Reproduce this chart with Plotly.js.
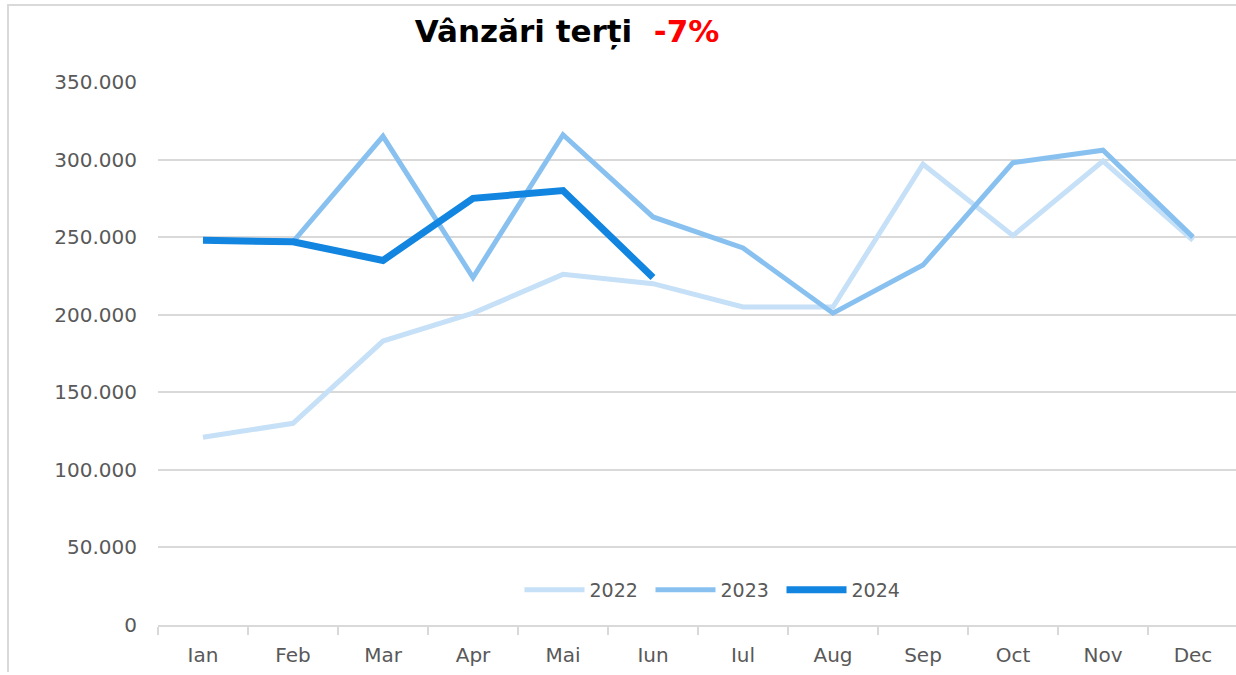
<!DOCTYPE html>
<html>
<head>
<meta charset="utf-8">
<script src="https://cdn.plot.ly/plotly-3.0.1.min.js"></script>
<style>
html,body{margin:0;padding:0;overflow:hidden;background:#fff;}
#chart{width:1240px;height:675px;}
</style>
</head>
<body>
<div id="chart"></div>
<script>
const months = ["Ian","Feb","Mar","Apr","Mai","Iun","Iul","Aug","Sep","Oct","Nov","Dec"];
const sales2022 = [121000,130000,183000,201000,226000,220000,205000,205000,297000,251000,299000,248000];
const sales2023 = [248000,247000,315000,224000,316000,263000,243000,201000,232000,298000,306000,250000];
const sales2024 = [248000,247000,235000,275000,280000,224000];
const yTickVals = [0,50000,100000,150000,200000,250000,300000,350000];
const yTickText = ["0","50.000","100.000","150.000","200.000","250.000","300.000","350.000"];

const L = 158, R = 1238, T = 82, B = 625;
const px = x => (x - L) / (R - L);
const py = y => (B - y) / (B - T);

const font = {family: "DejaVu Sans, Verdana, sans-serif", size: 20, color: "#595959"};

const traces = [
  {x: months, y: sales2022, name: "2022", type: "scatter", mode: "lines",
   line: {color: "#C5E0F7", width: 5}},
  {x: months.slice(0, sales2023.length), y: sales2023, name: "2023", type: "scatter", mode: "lines",
   line: {color: "#88C1F0", width: 5}},
  {x: months.slice(0, sales2024.length), y: sales2024, name: "2024", type: "scatter", mode: "lines",
   line: {color: "#1185E0", width: 7}}
];

const layout = {
  width: 1240, height: 675,
  margin: {l: L, r: 1240 - R, t: T, b: 675 - B},
  paper_bgcolor: "#fff", plot_bgcolor: "#fff",
  font: font,
  showlegend: true,
  title: {
    text: "Vânzări terți\u00A0\u00A0<span style='color:#FF0000'>-7%</span>",
    font: {family: "DejaVu Sans, Verdana, sans-serif", size: 31, color: "#000", weight: "bold"},
    xref: "paper", x: px(567), xanchor: "center",
    yref: "container", y: 1 - 31/675, yanchor: "middle"
  },
  xaxis: {
    type: "category", categoryorder: "array", categoryarray: months,
    range: [-0.5, 11.5],
    showgrid: false, zeroline: false,
    showline: true, linecolor: "#D9D9D9", linewidth: 2,
    ticks: "outside", tickson: "boundaries", ticklen: 8, tickcolor: "#D9D9D9", tickwidth: 2,
    tickfont: font, ticklabelstandoff: 11,
    fixedrange: true
  },
  yaxis: {
    range: [0, 350000],
    tickvals: yTickVals, ticktext: yTickText,
    showgrid: true, gridcolor: "#D9D9D9", gridwidth: 2,
    zeroline: false, showline: false, ticks: "",
    tickfont: font, ticklabelstandoff: 20,
    fixedrange: true
  },
  legend: {
    orientation: "h", x: px(716), xanchor: "center", y: py(590), yanchor: "middle",
    font: {family: "DejaVu Sans, Verdana, sans-serif", size: 19, color: "#595959"},
    bgcolor: "rgba(0,0,0,0)", traceorder: "normal",
    itemwidth: 60, entrywidth: 56, entrywidthmode: "pixels"
  },
  shapes: [
    {type: "line", xref: "paper", yref: "paper", x0: px(8), x1: px(8), y0: py(5), y1: py(672),
     line: {color: "#D9D9D9", width: 2}},
    {type: "line", xref: "paper", yref: "paper", x0: px(7), x1: px(1240), y0: py(5), y1: py(5),
     line: {color: "#D9D9D9", width: 2}}
  ]
};

Plotly.newPlot("chart", traces, layout, {displayModeBar: false, staticPlot: true});
</script>
</body>
</html>
